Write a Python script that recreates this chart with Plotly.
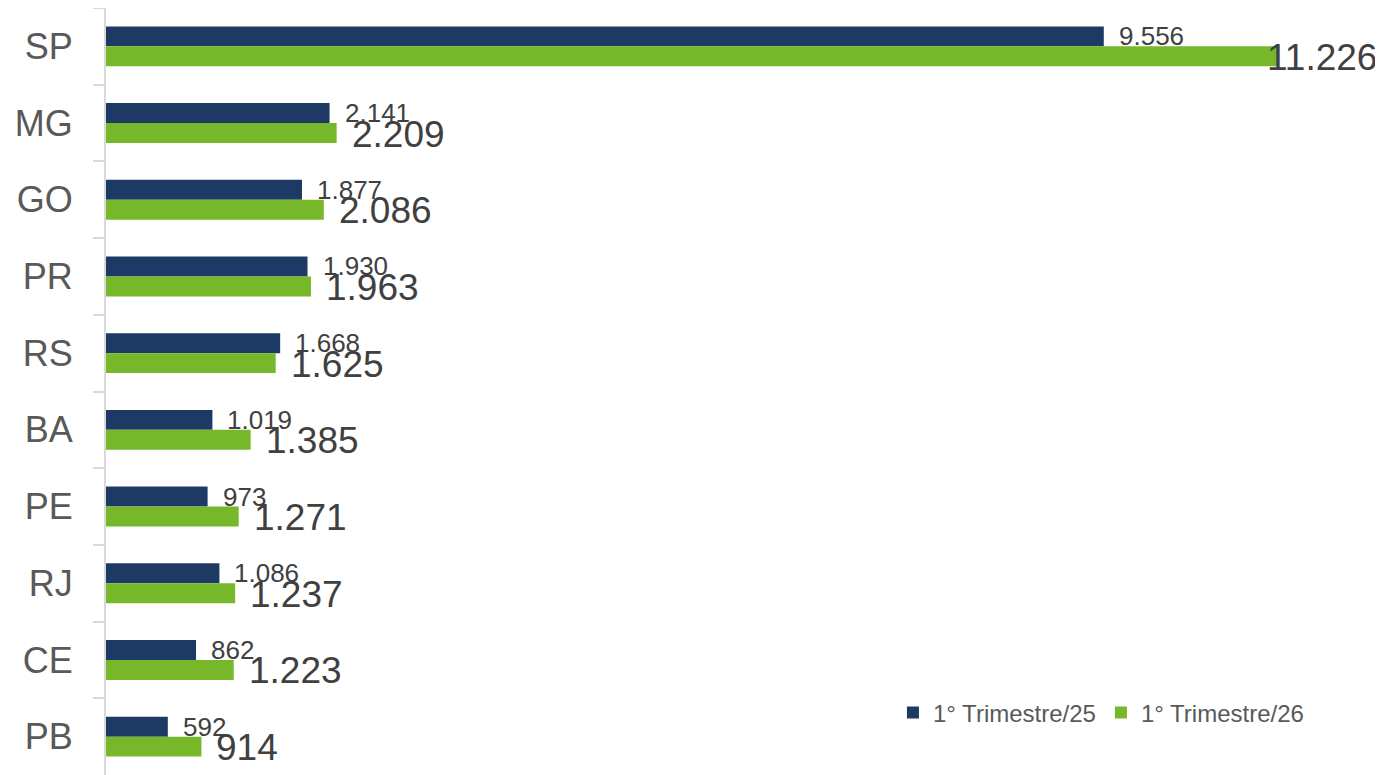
import plotly.graph_objects as go

# ── Data ──────────────────────────────────────────────────────────────────────
states = ["SP", "MG", "GO", "PR", "RS", "BA", "PE", "RJ", "CE", "PB"]
tri_25 = [9556, 2141, 1877, 1930, 1668, 1019, 973, 1086, 862, 592]
tri_26 = [11226, 2209, 2086, 1963, 1625, 1385, 1271, 1237, 1223, 914]
series_names = ["1° Trimestre/25", "1° Trimestre/26"]

_BLUE = "#1c3a64"
_GREEN = "#76b82a"
_FONT = "Liberation Sans, Arial, sans-serif"
_X_MAX = 12230


def _br(v: int) -> str:
    """Thousands with a dot, pt-BR style."""
    return f"{v:,}".replace(",", ".")


fig = go.Figure()
fig.add_trace(go.Bar(
    y=states, x=tri_25, orientation="h", name=series_names[0],
    marker=dict(color=_BLUE, line=dict(width=0)),
))
fig.add_trace(go.Bar(
    y=states, x=tri_26, orientation="h", name=series_names[1],
    marker=dict(color=_GREEN, line=dict(width=0)),
))

# value labels (small for /25, large for /26)
annotations = []
for s, v25, v26 in zip(states, tri_25, tri_26):
    annotations.append(dict(
        x=v25, y=s, xref="x", yref="y", text=_br(v25), showarrow=False,
        xanchor="left", yanchor="middle", xshift=13, yshift=10,
        font=dict(family=_FONT, size=26, color="#404040"),
    ))
    big = dict(
        x=v26, y=s, xref="x", yref="y", text=_br(v26), showarrow=False,
        xanchor="left", yanchor="middle", xshift=13, yshift=-11,
        font=dict(family=_FONT, size=37, color="#404040"),
    )
    if v26 > 0.85 * _X_MAX:   # would run off the page -> pin to right edge
        big.update(x=1, xref="paper", xanchor="right", xshift=-4)
    annotations.append(big)

# page body has an 8px margin, so the figure is sized to fit inside it
fig.update_layout(
    width=1375, height=767,
    paper_bgcolor="white", plot_bgcolor="white",
    barmode="group", bargap=0.48, bargroupgap=0,
    margin=dict(l=98, r=0, t=0, b=0, autoexpand=False),
    font=dict(family=_FONT, color="#595959"),
    annotations=annotations,
    legend=dict(
        orientation="h", x=0.942, xanchor="right", y=0.081, yanchor="middle",
        font=dict(family=_FONT, size=24, color="#595959"),
        bgcolor="rgba(0,0,0,0)", traceorder="normal",
    ),
)
fig.update_xaxes(range=[0, _X_MAX], visible=False, showgrid=False,
                 automargin=False)
fig.update_yaxes(
    autorange="reversed", automargin=False,
    showline=True, linecolor="#d9d9d9", linewidth=2,
    ticks="outside", tickson="boundaries", ticklen=11, tickcolor="#d9d9d9",
    tickwidth=2, ticklabelstandoff=24,
    tickfont=dict(family=_FONT, size=36, color="#595959"),
    showgrid=False,
)

fig.write_html("out.html")
